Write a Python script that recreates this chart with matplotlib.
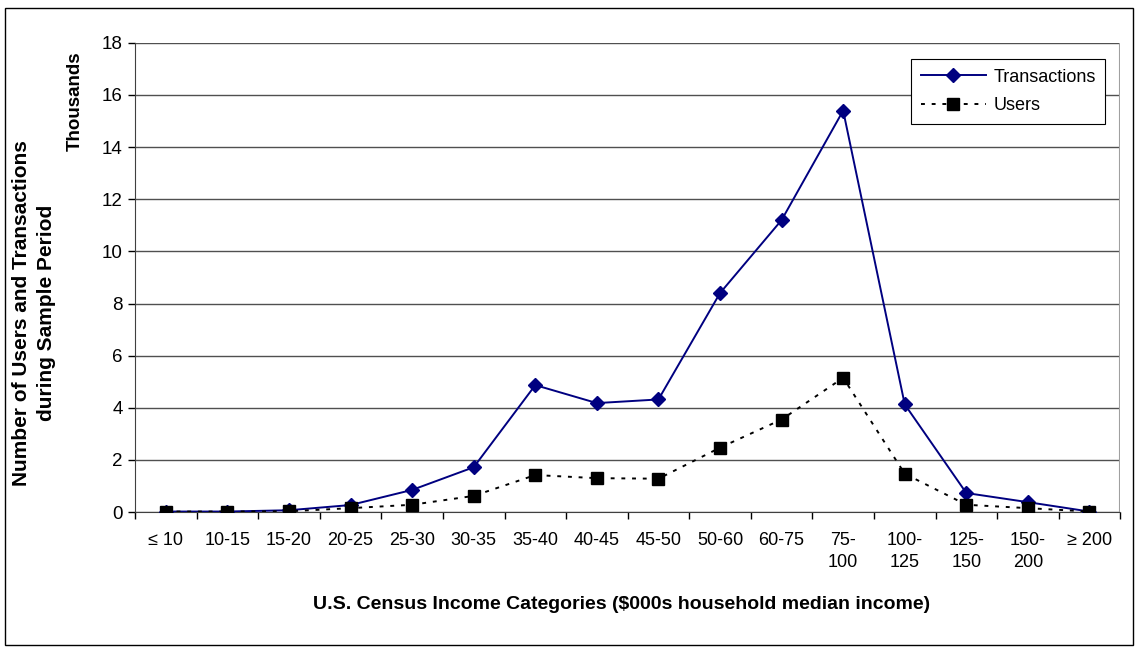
import numpy as np
import matplotlib.pyplot as plt
from matplotlib.patches import Rectangle

plt.rcParams['font.family'] = ['Liberation Sans', 'DejaVu Sans']

# categorie dochodowe
kategorie = ["≤ 10", "10-15", "15-20", "20-25", "25-30", "30-35", "35-40", "40-45",
             "45-50", "50-60", "60-75", "75-\n100", "100-\n125", "125-\n150", "150-\n200", "≥ 200"]

# wartosci w tysiacach
transakcje = [0.02, 0.02, 0.07, 0.27, 0.85, 1.72, 4.87, 4.18,
              4.32, 8.4, 11.2, 15.4, 4.13, 0.73, 0.38, 0.02]
uzytkownicy = [0.02, 0.02, 0.03, 0.15, 0.28, 0.62, 1.42, 1.3,
               1.28, 2.47, 3.55, 5.15, 1.47, 0.28, 0.15, 0.02]

fig = plt.figure(figsize=(11.35, 6.49), dpi=100)
ax = fig.add_axes([0.119, 0.211, 0.868, 0.723])

x = np.arange(len(kategorie))

### linie
ax.plot(x, transakcje, color="#000080", lw=1.4, marker="D", ms=7,
        mfc="#000080", mec="#000080", label="Transactions", zorder=3)
ax.plot(x, uzytkownicy, color="black", lw=1.4, ls=(0, (2, 3.5)), marker="s", ms=8,
        mfc="black", mec="black", label="Users", zorder=3)

ax.set_xlim(-0.5, len(kategorie) - 0.5)
ax.set_ylim(0, 18)
ax.set_yticks(range(0, 19, 2))
ax.set_xticks(x)
ax.set_xticklabels(kategorie, fontsize=13, va="top", linespacing=1.45)
ax.set_xticks(np.arange(-0.5, len(kategorie), 1), minor=True)
ax.tick_params(axis="x", which="major", length=0, pad=14)
ax.tick_params(axis="x", which="minor", length=5, width=1, direction="out")
ax.tick_params(axis="y", length=5, width=1, labelsize=13.5, pad=4)

ax.grid(axis="y", color="#505050", lw=1)
ax.set_axisbelow(True)

for s in ["top", "right"]:
    ax.spines[s].set_visible(False)
ax.spines["left"].set_color("#404040")
ax.spines["bottom"].set_color("#404040")
ax.axvline(len(kategorie) - 0.5, color="#a0a0a0", lw=1.5)

fig.text(0.548, 0.068, "U.S. Census Income Categories ($000s household median income)",
         ha="center", va="center", fontsize=14, fontweight="bold")

fig.text(0.030, 0.518, "Number of Users and Transactions\nduring Sample Period",
         rotation=90, ha="center", va="center", fontsize=15, fontweight="bold",
         linespacing=1.4)
fig.text(0.066, 0.844, "Thousands", rotation=90, ha="center", va="center",
         fontsize=13.5, fontweight="bold")

leg = ax.legend(loc="upper right", bbox_to_anchor=(0.985, 0.966), borderaxespad=0,
                fontsize=13, fancybox=False, framealpha=1, edgecolor="black",
                handlelength=3.6, borderpad=0.55, labelspacing=0.65, handletextpad=0.4)
leg.get_frame().set_linewidth(0.8)

# ramka wokol calosci
fig.patches.append(Rectangle((0.004, 0.006), 0.994, 0.982, transform=fig.transFigure,
                             fill=False, ec="black", lw=1))

fig.savefig("out.png", dpi=100)
